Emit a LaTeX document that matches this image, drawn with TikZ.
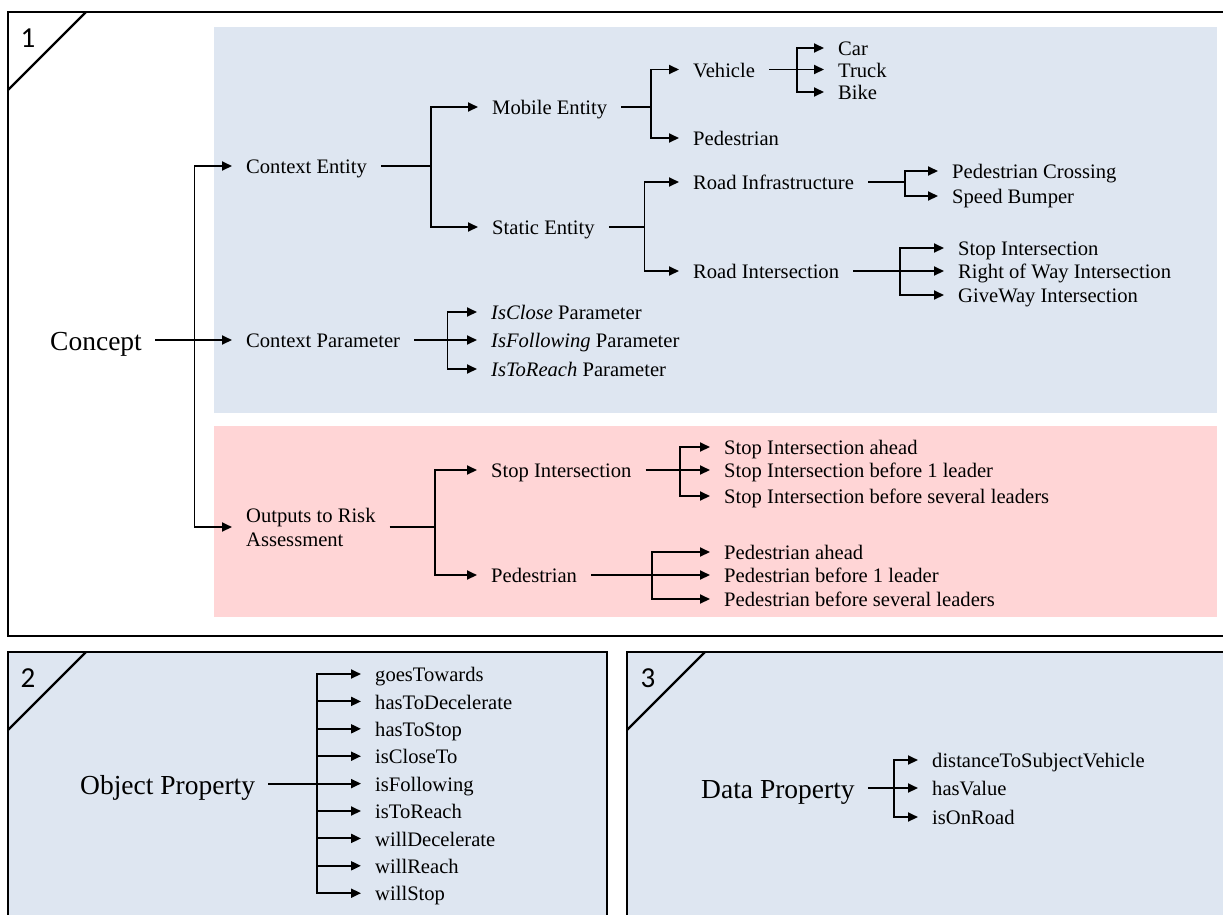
\documentclass[tikz,border=0pt]{standalone}
\usepackage{fontspec}
\setmainfont{Liberation Serif}
\newfontfamily\numfont{Carlito}
\usetikzlibrary{arrows.meta}
\definecolor{paleblue}{HTML}{DEE6F1}
\definecolor{palepink}{HTML}{FFD5D6}
\begin{document}
\begin{tikzpicture}[x=1pt,y=-1pt,
  lbl/.style={anchor=west, inner xsep=14pt, inner ysep=0pt, xshift=-14pt, font=\fontsize{20.6}{24}\selectfont, text height=15.5pt, text depth=0pt},
  lbltwo/.style={anchor=west, inner xsep=14pt, inner ysep=0pt, xshift=-14pt, font=\fontsize{20.6}{24}\selectfont, align=left},
  big/.style={anchor=west, inner xsep=13pt, inner ysep=0pt, xshift=-13pt, font=\fontsize{27.5}{33}\selectfont, text height=20.6pt, text depth=0pt},
  num/.style={font=\numfont\fontsize{29}{31}\selectfont, inner sep=0pt},
  conn/.style={line width=1.9pt},
  arr/.style={conn, -{Triangle[length=10pt,width=9pt]}},
  frameline/.style={line width=2.8pt},
  panel/.style={draw, line width=2.3pt, fill=paleblue},
  diag/.style={line width=2.2pt}]
\useasboundingbox (0,0) rectangle (1223,914);
\clip (0,0) rectangle (1223,914);

% ---------- panel 1 ----------
\fill[paleblue] (214,27) rectangle (1217,413);
\fill[palepink] (214,426) rectangle (1217,617);
\draw[frameline] (8,12) rectangle (1250,636);
\draw[diag] (86,12) -- (8,90);
\node[num] (n1) at (28,38) {1};

\node[big] (concept) at (50,340) {Concept};
\coordinate (bC) at (194.5,340);
\node[lbl] (CE) at (246,166) {Context Entity};
\node[lbl] (CP) at (246,340) {Context Parameter};
\node[lbltwo] (ORA) at (246,527) {Outputs to Risk\\Assessment};
\draw[conn] (concept) -- (bC);
\draw[arr] (bC) |- (CE);
\draw[arr] (bC) -- (CP);
\draw[arr] (bC) |- (ORA);

% Context Entity
\coordinate (bCE) at (431,166);
\node[lbl] (ME) at (492,107) {Mobile Entity};
\node[lbl] (SE) at (492,227) {Static Entity};
\draw[conn] (CE) -- (bCE);
\draw[arr] (bCE) |- (ME);
\draw[arr] (bCE) |- (SE);

% Mobile Entity
\coordinate (bME) at (651,107);
\node[lbl] (Veh) at (693,69.5) {Vehicle};
\node[lbl] (Ped) at (693,138) {Pedestrian};
\draw[conn] (ME) -- (bME);
\draw[arr] (bME) |- (Veh);
\draw[arr] (bME) |- (Ped);

% Vehicle
\coordinate (bVeh) at (797,69.5);
\node[lbl] (Car) at (838,48) {Car};
\node[lbl] (Truck) at (838,69.5) {Truck};
\node[lbl] (Bike) at (838,92) {Bike};
\draw[conn] (Veh) -- (bVeh);
\draw[arr] (bVeh) |- (Car);
\draw[arr] (bVeh) -- (Truck);
\draw[arr] (bVeh) |- (Bike);

% Static Entity
\coordinate (bSE) at (644.5,227);
\node[lbl] (RInf) at (693,182) {Road Infrastructure};
\node[lbl] (RInt) at (693,271) {Road Intersection};
\draw[conn] (SE) -- (bSE);
\draw[arr] (bSE) |- (RInf);
\draw[arr] (bSE) |- (RInt);

% Road Infrastructure
\coordinate (bRInf) at (905,182);
\node[lbl] (PC) at (952,171) {Pedestrian Crossing};
\node[lbl] (SB) at (952,196) {Speed Bumper};
\draw[conn] (RInf) -- (bRInf);
\draw[arr] (bRInf) |- (PC);
\draw[arr] (bRInf) |- (SB);

% Road Intersection
\coordinate (bRInt) at (900,271);
\node[lbl] (SI) at (958,248) {Stop Intersection};
\node[lbl] (RW) at (958,271) {Right of Way Intersection};
\node[lbl] (GW) at (958,295) {GiveWay Intersection};
\draw[conn] (RInt) -- (bRInt);
\draw[arr] (bRInt) |- (SI);
\draw[arr] (bRInt) -- (RW);
\draw[arr] (bRInt) |- (GW);

% Context Parameter
\coordinate (bCP) at (447.5,340);
\node[lbl] (IC) at (491,312) {\textit{IsClose} Parameter};
\node[lbl] (IF) at (491,340) {\textit{IsFollowing} Parameter};
\node[lbl] (IR) at (491,369) {\textit{IsToReach} Parameter};
\draw[conn] (CP) -- (bCP);
\draw[arr] (bCP) |- (IC);
\draw[arr] (bCP) -- (IF);
\draw[arr] (bCP) |- (IR);

% Outputs to Risk Assessment
\coordinate (bORA) at (435,527);
\node[lbl] (OSI) at (491,470) {Stop Intersection};
\node[lbl] (OPed) at (491,575) {Pedestrian};
\draw[conn] (ORA) -- (bORA);
\draw[arr] (bORA) |- (OSI);
\draw[arr] (bORA) |- (OPed);

\coordinate (bOSI) at (680,470);
\node[lbl] (SIA) at (724,447) {Stop Intersection ahead};
\node[lbl] (SIB) at (724,470) {Stop Intersection before 1 leader};
\node[lbl] (SIS) at (724,496) {Stop Intersection before several leaders};
\draw[conn] (OSI) -- (bOSI);
\draw[arr] (bOSI) |- (SIA);
\draw[arr] (bOSI) -- (SIB);
\draw[arr] (bOSI) |- (SIS);

\coordinate (bOPed) at (652,575);
\node[lbl] (PA) at (724,552) {Pedestrian ahead};
\node[lbl] (PB) at (724,575) {Pedestrian before 1 leader};
\node[lbl] (PS) at (724,599) {Pedestrian before several leaders};
\draw[conn] (OPed) -- (bOPed);
\draw[arr] (bOPed) |- (PA);
\draw[arr] (bOPed) -- (PB);
\draw[arr] (bOPed) |- (PS);

% ---------- panel 2 ----------
\draw[panel] (8,652) rectangle (607,950);
\draw[diag] (86,652) -- (8,730);
\node[num] (n2) at (28,678) {2};
\node[big] (OP) at (80,784) {Object Property};
\coordinate (bOP) at (317,784);
\draw[conn] (OP) -- (bOP);
\foreach \t [count=\i from 0] in {goesTowards,hasToDecelerate,hasToStop,isCloseTo,isFollowing,isToReach,willDecelerate,willReach,willStop}{
  \node[lbl] (op\i) at (375,674+27.4*\i) {\t};
  \draw[arr] (bOP) |- (op\i);
}

% ---------- panel 3 ----------
\draw[panel] (627,652) rectangle (1250,950);
\draw[diag] (705,652) -- (627,730);
\node[num] (n3) at (648,678) {3};
\node[big] (DP) at (701,788) {Data Property};
\coordinate (bDP) at (894,788);
\node[lbl] (dp1) at (932,760) {distanceToSubjectVehicle};
\node[lbl] (dp2) at (932,788) {hasValue};
\node[lbl] (dp3) at (932,817) {isOnRoad};
\draw[conn] (DP) -- (bDP);
\draw[arr] (bDP) |- (dp1);
\draw[arr] (bDP) -- (dp2);
\draw[arr] (bDP) |- (dp3);
\end{tikzpicture}
\end{document}
